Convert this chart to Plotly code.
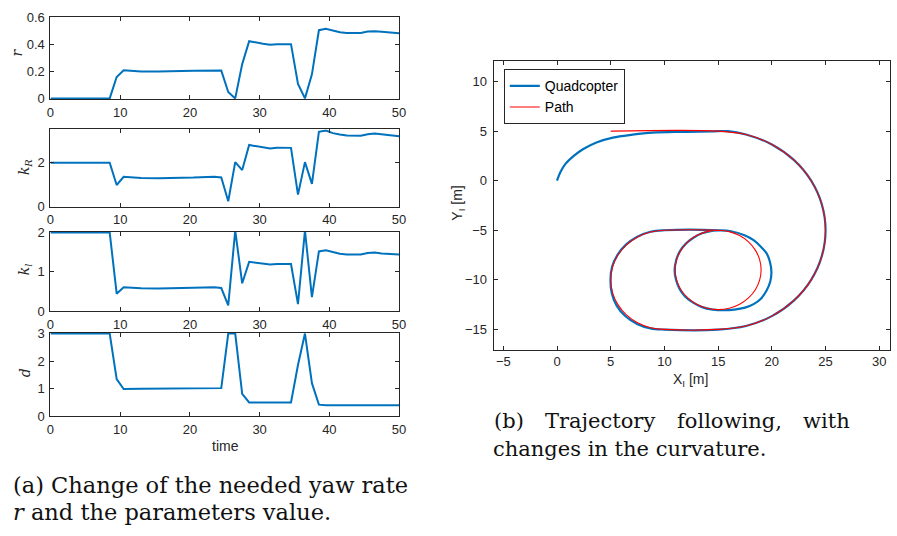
import plotly.graph_objects as go

# ---------------- data: left panels ----------------
time = [0, 8.5, 9.5, 10.5, 13, 15.5, 20.5, 23.5, 24.5, 25.5, 26.5, 27.5, 28.5, 30.5, 31.5,
        32.5, 34.5, 35.5, 36.5, 37.5, 38.5, 39.5, 40.5, 41.5, 42.5, 44.5, 45.5, 46.5, 47.5, 50]
r_vals = [0, 0, 0.159, 0.209, 0.200, 0.199, 0.205, 0.208, 0.206, 0.047, 0, 0.254, 0.424, 0.405, 0.398,
          0.402, 0.402, 0.107, 0, 0.178, 0.505, 0.515, 0.500, 0.490, 0.485, 0.485, 0.495, 0.498, 0.494, 0.482]
kR_vals = [2.0, 2.0, 0.99, 1.36, 1.31, 1.30, 1.33, 1.37, 1.33, 0.25, 2.03, 1.67, 2.81, 2.70, 2.65,
           2.69, 2.68, 0.55, 2.03, 1.04, 3.41, 3.47, 3.35, 3.29, 3.24, 3.23, 3.30, 3.33, 3.30, 3.21]
kl_vals = [2.0, 2.0, 0.445, 0.61, 0.585, 0.58, 0.595, 0.61, 0.59, 0.15, 2.05, 0.71, 1.255, 1.21, 1.19,
           1.20, 1.20, 0.18, 2.05, 0.36, 1.52, 1.55, 1.50, 1.46, 1.44, 1.44, 1.48, 1.49, 1.47, 1.44]
d_vals = [3, 3, 1.35, 0.99, 1.0, 1.0, 1.0, 1.0, 1.02, 3, 3, 0.81, 0.5, 0.5, 0.5,
          0.5, 0.5, 1.86, 3, 1.2, 0.42, 0.40, 0.40, 0.40, 0.40, 0.40, 0.40, 0.40, 0.40, 0.40]

x_ticks_left = [0, 10, 20, 30, 40, 50]
r_ticks = [0, 0.2, 0.4, 0.6]
kR_ticks = [0, 2]
kl_ticks = [0, 1, 2]
d_ticks = [0, 1, 2, 3]

# ---------------- data: trajectory ----------------
path_x = [5, 15, 17.588, 20, 22.071, 23.660, 24.659, 25, 24.659, 23.660, 22.071, 20, 17.588, 15,
          10, 8.706, 7.5, 6.464, 5.670, 5.170, 5, 5.170, 5.670, 6.464, 7.5, 8.706, 10,
          15, 16.035, 17, 17.828, 18.464, 18.864, 19, 18.864, 18.464, 17.828, 17, 16.035, 15,
          13.965, 13, 12.172, 11.536, 11.136, 11, 11.136, 11.536, 12.172, 13, 13.965, 15]
path_y = [5, 5, 4.659, 3.660, 2.071, 0, -2.412, -5, -7.588, -10, -12.071, -13.660, -14.659, -15,
          -15, -14.830, -14.330, -13.536, -12.5, -11.294, -10, -8.706, -7.5, -6.464, -5.670, -5.170, -5,
          -5, -5.136, -5.536, -6.172, -7, -7.965, -9, -10.035, -11, -11.828, -12.464, -12.864, -13,
          -12.864, -12.464, -11.828, -11, -10.035, -9, -7.965, -7, -6.172, -5.536, -5.136, -5]

quad_x = [0, 0.31, 0.77, 1.53, 2.45, 3.67, 5.20, 7.04, 8.88, 11.33, 14.39, 15.9,
          17.588, 20, 22.071, 23.660, 24.659, 25, 24.659, 23.660, 22.071, 20, 17.588, 15,
          10, 8.7, 7.45, 6.35, 5.55, 5.1, 4.98, 5.12, 5.62, 6.42, 7.48, 8.7, 10,
          15, 16.2, 17.45, 18.3, 18.98, 19.5, 19.8, 19.96, 19.85, 19.5, 18.98, 18.3, 17.5, 16.5,
          15.5, 14.5, 13.5, 12.6, 11.9, 11.4, 11.08, 10.95, 11.1, 11.45, 12.0, 12.7, 13.5, 14.3, 15.0]
quad_y = [0, 0.85, 1.67, 2.48, 3.20, 3.86, 4.35, 4.64, 4.84, 4.93, 4.97, 5.0,
          4.659, 3.660, 2.071, 0, -2.412, -5, -7.588, -10, -12.071, -13.660, -14.659, -15.02,
          -15.02, -14.9, -14.45, -13.65, -12.6, -11.35, -10.0, -8.7, -7.5, -6.45, -5.65, -5.15, -5.0,
          -5.0, -5.1, -5.5, -6.0, -6.66, -7.3, -8.1, -9.2, -10.2, -11.1, -11.9, -12.45, -12.8, -13.0,
          -13.07, -13.0, -12.75, -12.25, -11.65, -10.9, -10.0, -9.0, -8.0, -7.1, -6.35, -5.75, -5.3, -5.08, -5.02]

traj_x_ticks = [-5, 0, 5, 10, 15, 20, 25, 30]
traj_y_ticks = [-15, -10, -5, 0, 5, 10]

# ---------------- styling ----------------
W, H = 897, 536
BLUE = "#0072BD"
RED = "#FF0000"
AX = "#262626"
SANS = "Liberation Sans"
TICKFONT = dict(family=SANS, size=13, color=AX)
SERIF = "DejaVu Serif"


def px_x(p):
    return p / W


def px_y(p):
    return 1 - p / H


fig = go.Figure()

panels = [
    (r_vals, r_ticks, [-0.007, 0.6], (10.7, 95)),
    (kR_vals, kR_ticks, [0, 3.53], (125.7, 205.5)),
    (kl_vals, kl_ticks, [0, 2.025], (231, 313)),
    (d_vals, d_ticks, [0, 3.035], (335, 421)),
]

common_axis = dict(showline=True, linecolor=AX, linewidth=1, mirror="ticks", ticks="inside",
                   ticklen=4, tickcolor=AX, tickwidth=1, showgrid=False, zeroline=False,
                   tickfont=TICKFONT)

for i, (vals, yt, yr, (top, bot)) in enumerate(panels):
    n = "" if i == 0 else str(i + 1)
    fig.add_trace(go.Scatter(x=time, y=vals, mode="lines", line=dict(color=BLUE, width=2),
                             xaxis="x" + n, yaxis="y" + n, showlegend=False))
    fig.layout["xaxis" + n] = dict(domain=[px_x(47), px_x(400)], range=[0, 50],
                                   tickvals=x_ticks_left, anchor="y" + n,
                                   ticklabelstandoff=1, **common_axis)
    fig.layout["yaxis" + n] = dict(domain=[px_y(bot), px_y(top)], range=yr,
                                   tickvals=yt, ticktext=[str(v) for v in yt], anchor="x" + n,
                                   ticklabelstandoff=2, **common_axis)

# trajectory panel
fig.add_trace(go.Scatter(x=quad_x, y=quad_y, mode="lines", name="Quadcopter",
                         line=dict(color=BLUE, width=2.2, shape="spline", smoothing=1.0),
                         xaxis="x5", yaxis="y5"))
fig.add_trace(go.Scatter(x=path_x, y=path_y, mode="lines", name="Path",
                         line=dict(color=RED, width=1.1, shape="spline", smoothing=1.0),
                         xaxis="x5", yaxis="y5"))
fig.layout["xaxis5"] = dict(domain=[px_x(495.7), 1.0], range=[-5.9, 31.0], tickvals=traj_x_ticks,
                            anchor="y5", ticklabelstandoff=0, **common_axis)
fig.layout["yaxis5"] = dict(domain=[px_y(352.7), px_y(55.7)], range=[-17.06, 12.06],
                            tickvals=traj_y_ticks, anchor="x5", ticklabelstandoff=3, **common_axis)

annotations = []
# left y-axis labels (italic serif, rotated)
for txt, x, y in [("<i>r</i>", 13, 47), ("<i>k</i><sub><i>R</i></sub>", 22, 165),
                  ("<i>k</i><sub><i>l</i></sub>", 22, 270), ("<i>d</i>", 22, 376)]:
    annotations.append(dict(text=txt, x=px_x(x), y=px_y(y), xref="paper", yref="paper",
                            showarrow=False, textangle=-90, xanchor="center", yanchor="middle",
                            font=dict(family=SERIF, size=14, color=AX)))
annotations.append(dict(text="time", x=px_x(224), y=px_y(452), xref="paper", yref="paper",
                        showarrow=False, xanchor="center", yanchor="middle",
                        font=dict(family=SANS, size=14, color=AX)))
annotations.append(dict(text="X<sub>I</sub> [m]", x=px_x(695), y=px_y(384), xref="paper",
                        yref="paper", showarrow=False, xanchor="center", yanchor="middle",
                        font=dict(family=SANS, size=14, color=AX)))
annotations.append(dict(text="Y<sub>I</sub> [m]", x=px_x(460), y=px_y(202), xref="paper",
                        yref="paper", showarrow=False, textangle=-90, xanchor="center",
                        yanchor="middle", font=dict(family=SANS, size=14, color=AX)))

CAP = dict(family=SERIF, size=21, color="#111111")
CAP_A = dict(family=SERIF, size=22.5, color="#111111")
# captions
annotations.append(dict(text="(a) Change of the needed yaw rate", x=px_x(7), y=px_y(492),
                        xref="paper", yref="paper", showarrow=False, xanchor="left",
                        yanchor="middle", font=CAP_A))
annotations.append(dict(text="<i>r</i> and the parameters value.", x=px_x(7), y=px_y(520),
                        xref="paper", yref="paper", showarrow=False, xanchor="left",
                        yanchor="middle", font=CAP_A))
for word, x, anchor in [("(b)", 494, "left"), ("Trajectory", 546, "left"),
                        ("following,", 679, "left"), ("with", 859, "right")]:
    annotations.append(dict(text=word, x=px_x(x), y=px_y(426), xref="paper", yref="paper",
                            showarrow=False, xanchor=anchor, yanchor="middle", font=CAP))
annotations.append(dict(text="changes in the curvature.", x=px_x(493), y=px_y(455),
                        xref="paper", yref="paper", showarrow=False, xanchor="left",
                        yanchor="middle", font=CAP))

fig.update_layout(
    width=W, height=H, margin=dict(l=0, r=0, t=0, b=0),
    paper_bgcolor="white", plot_bgcolor="white",
    annotations=annotations,
    legend=dict(x=px_x(506), y=px_y(64), xanchor="left", yanchor="top",
                bordercolor=AX, borderwidth=1, bgcolor="white",
                font=dict(family=SANS, size=14, color="#000000"),
                tracegroupgap=0, itemwidth=30),
    showlegend=True,
)

fig.write_html("out.html")
